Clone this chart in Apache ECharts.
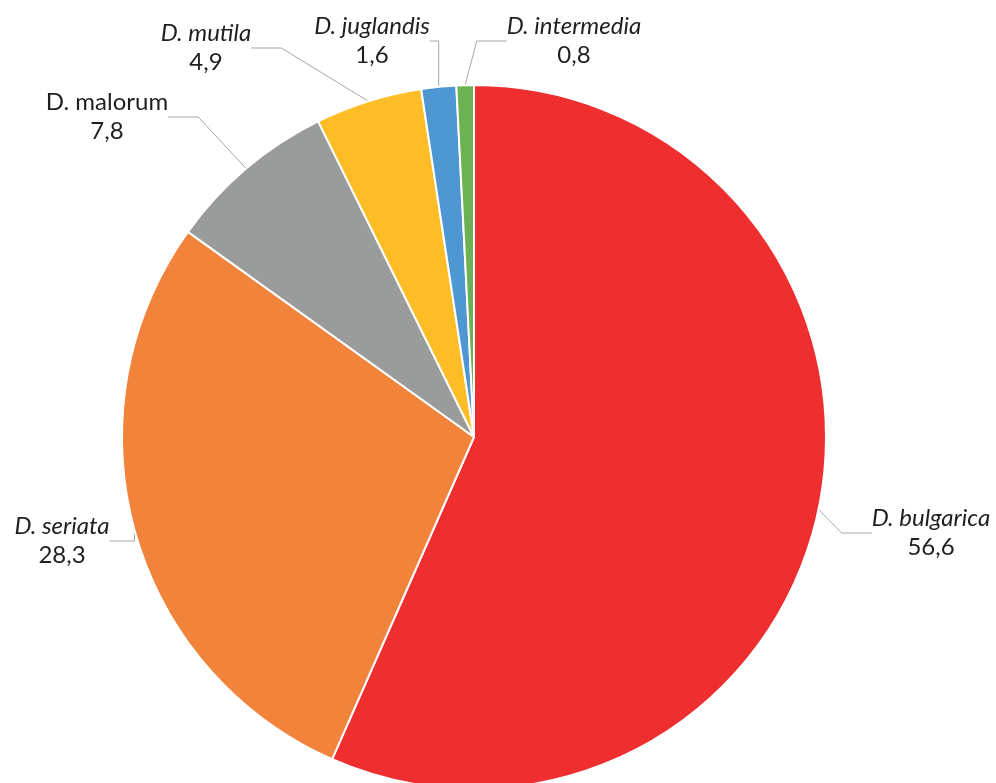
<!DOCTYPE html>
<html>
<head>
<meta charset="utf-8">
<script src="https://cdn.jsdelivr.net/npm/echarts@6/dist/echarts.min.js"></script>
<style>
  html, body { margin: 0; padding: 0; background: #fff; }
  #chart { width: 996px; height: 783px; }
</style>
</head>
<body>
<div id="chart"></div>
<script>
const species = ['D. bulgarica', 'D. seriata', 'D. malorum', 'D. mutila', 'D. juglandis', 'D. intermedia']
const shares = [56.6, 28.3, 7.8, 4.9, 1.6, 0.8]
const italicNames = [true, true, false, true, true, true]

const colors = ['#ee2e2f', '#f2833b', '#9a9c9c', '#febd27', '#4e97d3', '#6cb254']
// label block centres
const labelPos = [[931, 533], [62, 541], [107, 117], [206, 48], [372, 41], [574, 41]]

const chart = echarts.init(document.getElementById('chart'))

const txt = { fontFamily: 'Lato', fontSize: 24, color: '#1f1f1f', lineHeight: 29, align: 'center' }

chart.setOption({
  animation: false,
  series: [
    {
      type: 'pie',
      center: [474, 437],
      radius: 352,
      startAngle: 90,
      clockwise: true,
      avoidLabelOverlap: false,
      itemStyle: { borderColor: '#fff', borderWidth: 2 },
      label: {
        show: true,
        formatter: p => '{' + (italicNames[p.dataIndex] ? 'it' : 'n') + '|' + p.name + '}\n{v|' +
          String(p.value).replace('.', ',') + '}',
        rich: {
          it: Object.assign({}, txt, { fontStyle: 'italic' }),
          n: txt,
          v: txt,
        },
      },
      labelLine: { show: true, lineStyle: { color: '#a6a6a6', width: 1 } },
      labelLayout: p => ({
        x: labelPos[p.dataIndex][0],
        y: labelPos[p.dataIndex][1],
        align: 'center',
        verticalAlign: 'middle',
      }),
      data: species.map((name, i) => ({ name, value: shares[i], itemStyle: { color: colors[i] } })),
    },
  ],
})
</script>
</body>
</html>
